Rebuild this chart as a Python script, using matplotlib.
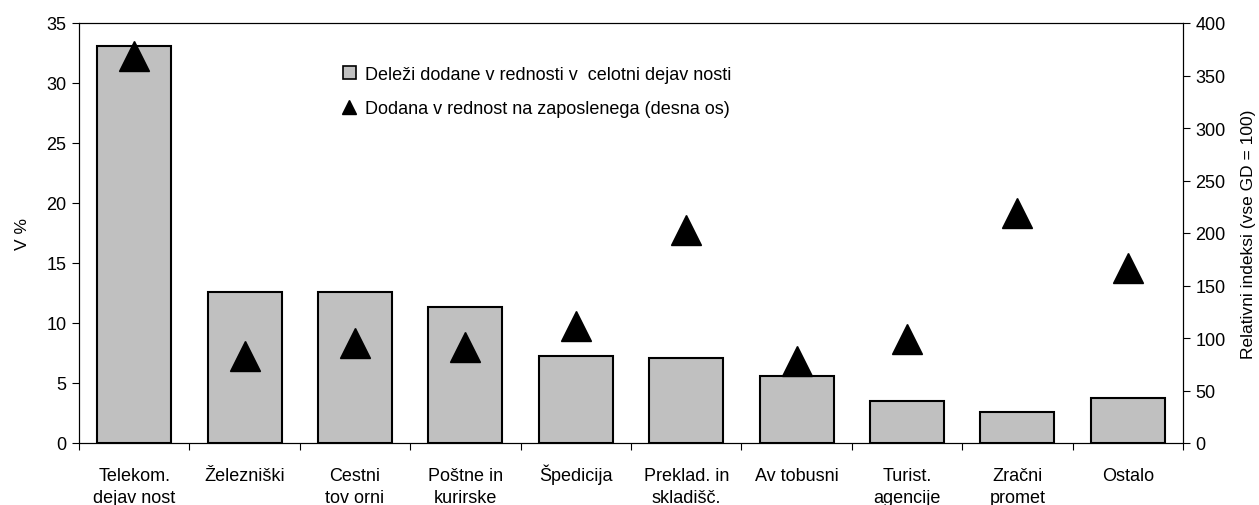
import matplotlib
matplotlib.use("Agg")
import matplotlib.pyplot as plt
from matplotlib.patches import Patch
from matplotlib.lines import Line2D
import numpy as np

plt.rcParams['font.family'] = ['Liberation Sans', 'DejaVu Sans']

categories = ["Telekom.\ndejav nost", "Železniški", "Cestni\ntov orni", "Poštne in\nkurirske",
              "Špedicija", "Preklad. in\nskladišč.", "Av tobusni", "Turist.\nagencije",
              "Zračni\npromet", "Ostalo"]
shares = [33.1, 12.6, 12.6, 11.35, 7.25, 7.1, 5.6, 3.5, 2.6, 3.75]
index_values = [369, 83, 95, 91, 111, 203, 78, 99, 219, 167]

legend_bar = "Deleži dodane v rednosti v  celotni dejav nosti"
legend_tri = "Dodana v rednost na zaposlenega (desna os)"

W, H = 1259, 506
fig = plt.figure(figsize=(W / 100, H / 100), dpi=100)
ax = fig.add_axes([79 / W, 62 / H, 1104 / W, 420 / H])
x = np.arange(len(categories))
ax.bar(x, shares, width=0.67, color="#C0C0C0", edgecolor="black", linewidth=1.5, zorder=2)
ax.set_xlim(-0.5, len(categories) - 0.5)
ax.set_ylim(0, 35)
ax.set_yticks(range(0, 36, 5))
ax.set_xticks(x)
ax.set_xticklabels([])
ax.set_xticks(np.arange(-0.5, len(categories)), minor=True)
ax.tick_params(axis='x', which='major', length=0)
ax.tick_params(axis='x', which='minor', length=5, direction='out', width=0.8)
ax.tick_params(axis='y', length=5, direction='out', labelsize=13, width=0.8, pad=4)
ax.set_ylabel("V %", fontsize=12.5, labelpad=12)
for s in ax.spines.values():
    s.set_linewidth(0.8)

# category labels: each line at a fixed baseline below the axis
trans = ax.get_xaxis_transform()
line_baselines_px = [481, 503]
for xi, lab in zip(x, categories):
    for li, part in enumerate(lab.split("\n")):
        yb = (444 - line_baselines_px[li]) / 420
        ax.text(xi, yb, part, transform=trans, ha='center', va='baseline',
                fontsize=13, clip_on=False)

ax2 = ax.twinx()
ax2.plot(x, index_values, linestyle='none', marker='^', markersize=21, color='black', zorder=3)
ax2.set_ylim(0, 400)
ax2.set_yticks(range(0, 401, 50))
ax2.tick_params(axis='y', length=5, direction='out', labelsize=13, width=0.8, pad=4)
ax2.set_ylabel("Relativni indeksi (vse GD = 100)", fontsize=12.5, labelpad=11)
for s in ax2.spines.values():
    s.set_linewidth(0.8)

handles = [Patch(facecolor="#C0C0C0", edgecolor="black", linewidth=1.2),
           Line2D([], [], linestyle='none', marker='^', markersize=9.5, color='black')]
ax2.legend(handles, [legend_bar, legend_tri], loc='upper left', bbox_to_anchor=(0.226, 0.932),
           frameon=False, fontsize=13, handlelength=0.72, handleheight=0.72, handletextpad=0.5,
           labelspacing=0.95, borderpad=0.3)

fig.savefig("out.png", dpi=100)
